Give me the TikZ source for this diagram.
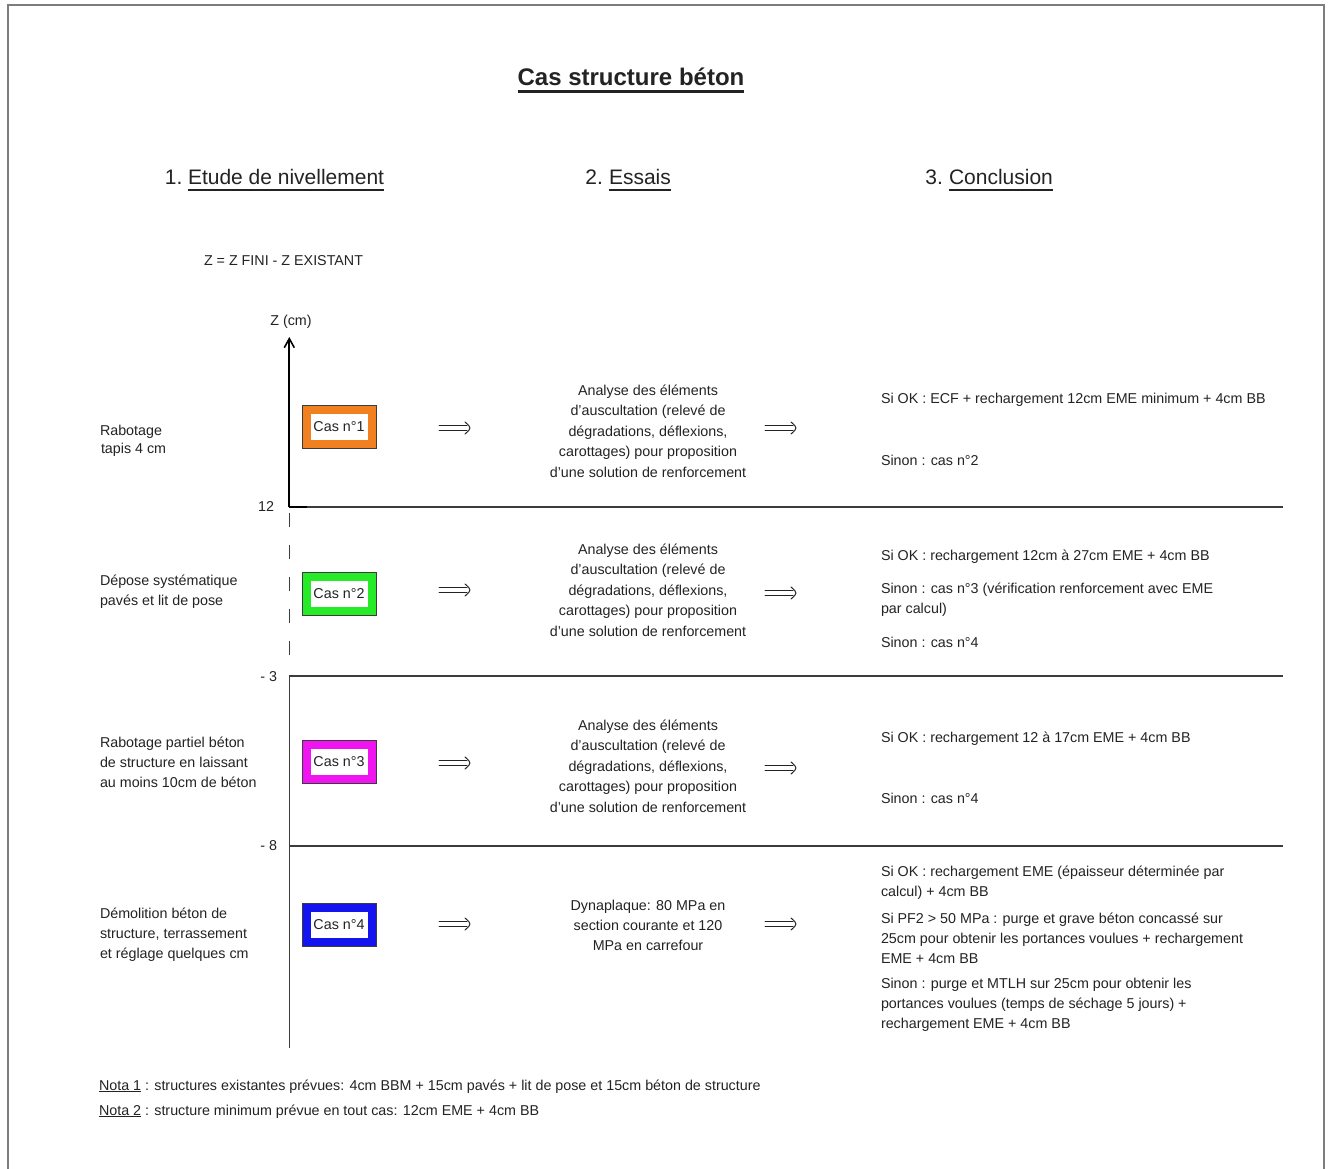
\documentclass[tikz,border=0pt]{standalone}
\usepackage{fontspec}
\setmainfont{Liberation Sans}
\usetikzlibrary{arrows.meta}
\definecolor{txtc}{RGB}{35,35,35}
\definecolor{framec}{RGB}{125,125,125}
\definecolor{linec}{RGB}{60,60,60}
\definecolor{casorange}{RGB}{240,128,32}
\definecolor{casgreen}{RGB}{40,235,40}
\definecolor{casmagenta}{RGB}{240,20,240}
\definecolor{casblue}{RGB}{20,20,240}
\newcommand\topst{\rule{0pt}{12pt}}
\newcommand\dblarr[2]{%
  \draw[arrline] ([yshift=2.2pt]#1) -- ([xshift=-3pt,yshift=2.2pt]#2);
  \draw[arrline] ([yshift=-2.2pt]#1) -- ([xshift=-3pt,yshift=-2.2pt]#2);
  \draw[arrline] ([xshift=-5pt,yshift=6pt]#2) .. controls ([xshift=-1pt,yshift=2.5pt]#2) .. (#2)
     .. controls ([xshift=-1pt,yshift=-2.5pt]#2) .. ([xshift=-5pt,yshift=-6pt]#2);}
\begin{document}
\begin{tikzpicture}[x=1pt,y=-1pt,
  txt/.style={font=\fontsize{14.3}{20.5}\selectfont, text=txtc, inner sep=0pt, outer sep=0pt},
  lbl/.style={txt, anchor=base west},
  para/.style={txt, align=left, anchor=north west},
  para20/.style={para, font=\fontsize{14.3}{20}\selectfont},
  mid/.style={txt, align=center, anchor=north},
  head/.style={font=\fontsize{21}{25}\selectfont, text=txtc, inner sep=0pt, outer sep=0pt, anchor=base west},
  uline/.style={draw=txtc, line width=2pt},
  sep/.style={draw=linec, line width=1.4pt},
  casout/.style={draw=linec, line width=0.8pt, minimum width=74pt, minimum height=43pt, inner sep=0pt},
  casin/.style={txt, fill=white, minimum width=57pt, minimum height=26pt},
  arrline/.style={draw=txtc, line width=1pt, line cap=round, line join=round},
]
\useasboundingbox (0,0) rectangle (1330,1169);
\fill[white] (0,0) rectangle (1330,1169);
\draw[framec, line width=2pt] (8,1175) -- (8,5.3) -- (1323.5,5.3) -- (1323.5,1175);

% title and headings
\node[font=\bfseries\fontsize{24}{28}\selectfont, text=txtc, inner sep=0pt, outer sep=0pt, anchor=base] (title) at (631,86) {Cas structure béton};
\draw[uline, line width=2.5pt] ([yshift=-5.5pt]title.base west) -- ([yshift=-5.5pt]title.base east);

\node[head, anchor=base east] (h1n) at (182.5,185) {1.};
\node[head] (h1) at (188,185) {Etude de nivellement};
\draw[uline] ([yshift=-5.5pt]h1.base west) -- ([yshift=-5.5pt]h1.base east);
\node[head, anchor=base east] (h2n) at (603,185) {2.};
\node[head] (h2) at (609,185) {Essais};
\draw[uline] ([yshift=-5.5pt]h2.base west) -- ([yshift=-5.5pt]h2.base east);
\node[head, anchor=base east] (h3n) at (943,185) {3.};
\node[head] (h3) at (949,185) {Conclusion};
\draw[uline] ([yshift=-5.5pt]h3.base west) -- ([yshift=-5.5pt]h3.base east);

\node[lbl] (zdef) at (204,265) {Z = Z FINI - Z EXISTANT};
\node[txt, anchor=base] (zcm) at (291,325) {Z (cm)};

% axis
\coordinate (axtop) at (289.3,337);
\coordinate (ax12) at (289.3,507);
\coordinate (ax3) at (289.3,676);
\coordinate (ax8) at (289.3,846);
\coordinate (axbot) at (289.3,1048);
\draw[black, line width=2pt, -{Straight Barb[length=9pt,width=10pt,line width=1.6pt]}] (ax12) -- (axtop);
\draw[linec, line width=1.5pt, dash pattern=on 14pt off 18pt] (289.3,513) -- (289.3,668);
\draw[linec, line width=1.6pt] (ax3) -- (axbot);

\node[lbl, anchor=base east] (t12) at (274,511) {12};
\node[lbl, anchor=base east] (t3) at (277,681) {- 3};
\node[lbl, anchor=base east] (t8) at (277,850) {- 8};

\coordinate (sep1e) at (1283,507);
\coordinate (sep2e) at (1283,676);
\coordinate (sep3e) at (1283,846);
\draw[sep] (ax12) -- (sep1e);
\draw[sep] (ax3) -- (sep2e);
\draw[sep] (ax8) -- (sep3e);
\draw[black, line width=2pt] (ax12) -- ++(18,0);

% left labels
\node[lbl] (l1a) at (100,435) {Rabotage};
\node[lbl] (l1b) at (101,453) {tapis 4 cm};
\node[para] (l2) at (100,573) {\topst Dépose systématique\\pavés et lit de pose};
\node[para20] (l3) at (100,735) {\topst Rabotage partiel béton\\de structure en laissant\\au moins 10cm de béton};
\node[para20] (l4) at (100,906) {\topst Démolition béton de\\structure, terrassement\\et réglage quelques cm};

% cas boxes
\node[casout, fill=casorange] (cas1box) at (339,426.7) {};
\node[casin] (cas1) at (cas1box) {Cas n°1};
\node[casout, fill=casgreen] (cas2box) at (339,594) {};
\node[casin] (cas2) at (cas2box) {Cas n°2};
\node[casout, fill=casmagenta] (cas3box) at (339,762) {};
\node[casin] (cas3) at (cas3box) {Cas n°3};
\node[casout, fill=casblue] (cas4box) at (339,924.5) {};
\node[casin] (cas4) at (cas4box) {Cas n°4};

% middle texts
\node[mid] (m1) at (648,383) {\topst Analyse des éléments\\d'auscultation (relevé de\\dégradations, déflexions,\\carottages) pour proposition\\d'une solution de renforcement};
\node[mid] (m2) at (648,542) {\topst Analyse des éléments\\d'auscultation (relevé de\\dégradations, déflexions,\\carottages) pour proposition\\d'une solution de renforcement};
\node[mid] (m3) at (648,718) {\topst Analyse des éléments\\d'auscultation (relevé de\\dégradations, déflexions,\\carottages) pour proposition\\d'une solution de renforcement};
\node[mid, font=\fontsize{14.3}{20}\selectfont] (m4) at (648,898) {\topst Dynaplaque: 80 MPa en\\section courante et 120\\MPa en carrefour};

% arrows
\coordinate (a1s) at (439,428); \coordinate (a1e) at (470,428);
\coordinate (a2s) at (439,590); \coordinate (a2e) at (470,590);
\coordinate (a3s) at (439,763); \coordinate (a3e) at (470,763);
\coordinate (a4s) at (439,924); \coordinate (a4e) at (470,924);
\coordinate (b1s) at (765,428); \coordinate (b1e) at (796,428);
\coordinate (b2s) at (765,593); \coordinate (b2e) at (796,593);
\coordinate (b3s) at (765,768); \coordinate (b3e) at (796,768);
\coordinate (b4s) at (765,924); \coordinate (b4e) at (796,924);
\dblarr{a1s}{a1e}
\dblarr{a2s}{a2e}
\dblarr{a3s}{a3e}
\dblarr{a4s}{a4e}
\dblarr{b1s}{b1e}
\dblarr{b2s}{b2e}
\dblarr{b3s}{b3e}
\dblarr{b4s}{b4e}

% right column
\node[lbl] (r1a) at (881,403) {Si OK : ECF + rechargement 12cm EME minimum + 4cm BB};
\node[lbl] (r1b) at (881,465) {Sinon : cas n°2};
\node[lbl] (r2a) at (881,560) {Si OK : rechargement 12cm à 27cm EME + 4cm BB};
\node[para20] (r2b) at (881,581) {\topst Sinon : cas n°3 (vérification renforcement avec EME\\par calcul)};
\node[lbl] (r2c) at (881,647) {Sinon : cas n°4};
\node[lbl] (r3a) at (881,742) {Si OK : rechargement 12 à 17cm EME + 4cm BB};
\node[lbl] (r3b) at (881,803) {Sinon : cas n°4};
\node[para20] (r4a) at (881,864) {\topst Si OK : rechargement EME (épaisseur déterminée par\\calcul) + 4cm BB};
\node[para20] (r4b) at (881,911) {\topst Si PF2 > 50 MPa : purge et grave béton concassé sur\\25cm pour obtenir les portances voulues + rechargement\\EME + 4cm BB};
\node[para20] (r4c) at (881,976) {\topst Sinon : purge et MTLH sur 25cm pour obtenir les\\portances voulues (temps de séchage 5 jours) +\\rechargement EME + 4cm BB};

% notes
\node[lbl] (n1) at (99,1090) {\underline{Nota 1} : structures existantes prévues: 4cm BBM + 15cm pavés + lit de pose et 15cm béton de structure};
\node[lbl] (n2) at (99,1115) {\underline{Nota 2} : structure minimum prévue en tout cas: 12cm EME + 4cm BB};
\end{tikzpicture}
\end{document}
